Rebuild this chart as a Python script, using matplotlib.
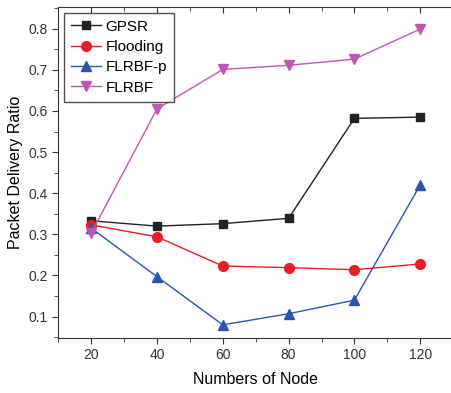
import numpy as np
import matplotlib.pyplot as plt
from matplotlib.ticker import MultipleLocator

nodes = [20, 40, 60, 80, 100, 120]
gpsr = [0.333, 0.320, 0.326, 0.339, 0.582, 0.585]
flooding = [0.323, 0.294, 0.223, 0.219, 0.214, 0.228]
flrbf_p = [0.315, 0.197, 0.080, 0.107, 0.140, 0.420]
flrbf = [0.303, 0.605, 0.701, 0.711, 0.726, 0.799]

plt.rcParams['font.family'] = ['Liberation Sans', 'DejaVu Sans']

fig = plt.figure(figsize=(4.51, 3.93), dpi=100)
W, H = 451, 393
x0, x1 = 58.3, 58.3 + 120 * 3.29
y0, y1 = 338, 7.3
ax = fig.add_axes([x0 / W, 1 - y0 / H, (x1 - x0) / W, (y0 - y1) / H])

ax.plot(nodes, gpsr, color='#222222', marker='s', ms=6, lw=1, label='GPSR')
ax.plot(nodes, flooding, color='#ee1c25', marker='o', ms=7, lw=1, label='Flooding')
ax.plot(nodes, flrbf_p, color='#2b55ad', marker='^', ms=7, lw=1, label='FLRBF-p')
ax.plot(nodes, flrbf, color='#c055b5', marker='v', ms=7, lw=1, label='FLRBF')

ax.set_xlim(10, 130)
ax.set_ylim(0.048, 0.852)
ax.xaxis.set_major_locator(MultipleLocator(20))
ax.xaxis.set_minor_locator(MultipleLocator(10))
ax.yaxis.set_major_locator(MultipleLocator(0.1))
ax.yaxis.set_minor_locator(MultipleLocator(0.05))
ax.set_xticks([20, 40, 60, 80, 100, 120])
ax.tick_params(axis='both', which='both', direction='out', labelsize=10, colors='#333333')
ax.tick_params(which='major', length=4)
ax.tick_params(which='minor', length=3)
ax.xaxis.set_tick_params(which='both', top=True)
for t in ax.xaxis.get_major_ticks() + ax.xaxis.get_minor_ticks():
    t.tick2line.set_marker(3)
for sp in ax.spines.values():
    sp.set_color('#333333')

ax.set_xlabel('Numbers of Node', fontsize=11.5, labelpad=7)
ax.set_ylabel('Packet Delivery Ratio', fontsize=11.5, labelpad=4)

leg = ax.legend(loc='upper left', fontsize=11, frameon=True, fancybox=False,
                edgecolor='#222222', borderpad=0.45, labelspacing=0.42,
                handlelength=2.0, handletextpad=0.3, borderaxespad=0.35)
leg.get_frame().set_linewidth(1)

fig.savefig('out.png', dpi=100)
